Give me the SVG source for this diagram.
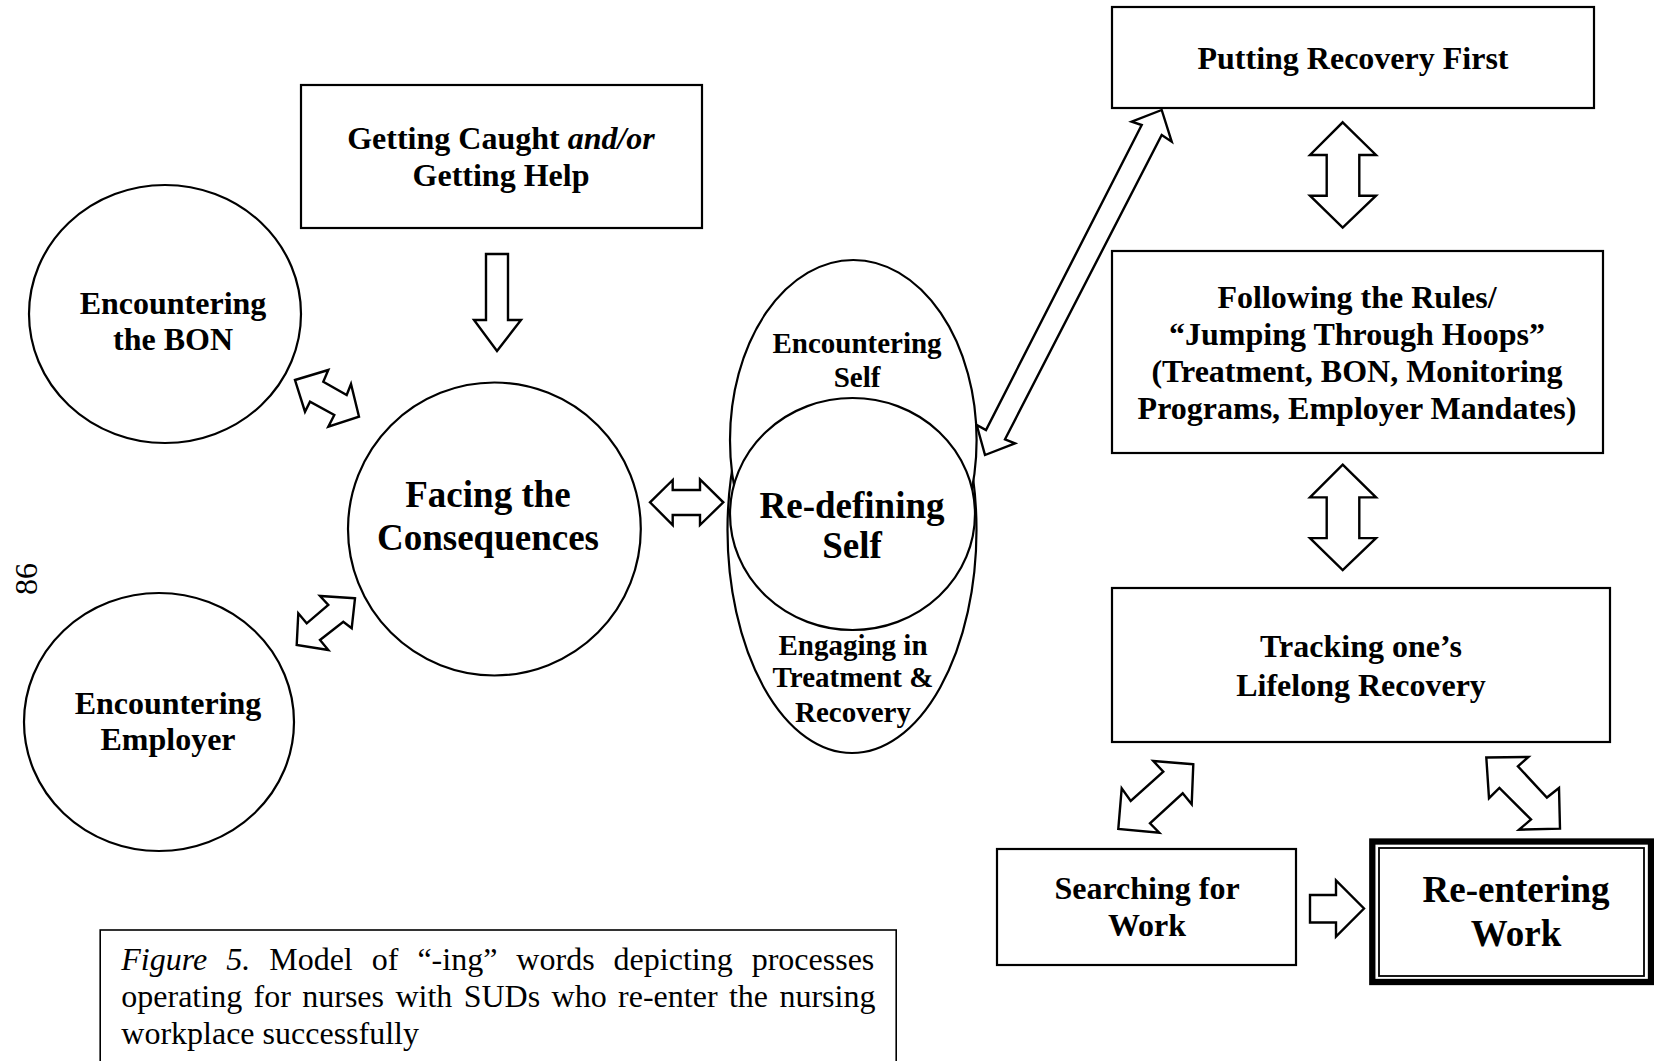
<svg xmlns="http://www.w3.org/2000/svg" width="1654" height="1061" viewBox="0 0 1654 1061">
<style>
.box{fill:#fff;stroke:#000;stroke-width:2.2}
.arr{fill:#fff;stroke:#000;stroke-width:2.4;stroke-linejoin:miter}
.t{font-family:"Liberation Serif","Times New Roman",serif;font-weight:bold;text-anchor:middle;fill:#000}
.s32{font-size:32px}
.s37{font-size:37px}
.s29{font-size:29px}
.cap{font-family:"Liberation Serif","Times New Roman",serif;font-size:32px;fill:#000}
</style>
<rect width="1654" height="1061" fill="#fff"/>

<text class="cap" transform="translate(37,579) rotate(-90)" text-anchor="middle" font-size="34">86</text>

<g id="node-getting-caught">
<rect class="box" x="301" y="85" width="401" height="143"/>
<text class="t s32" x="501" y="149">Getting Caught <tspan font-style="italic">and/or</tspan></text>
<text class="t s32" x="501" y="186">Getting Help</text>
</g>

<g id="node-encountering-bon">
<ellipse class="box" cx="165" cy="314" rx="136" ry="129"/>
<text class="t s32" x="173" y="314">Encountering</text>
<text class="t s32" x="173" y="350">the BON</text>
</g>

<g id="node-encountering-employer">
<ellipse class="box" cx="159" cy="722" rx="135" ry="129"/>
<text class="t s32" x="168" y="714">Encountering</text>
<text class="t s32" x="168" y="750">Employer</text>
</g>

<g id="node-facing">
<ellipse class="box" cx="494.4" cy="529" rx="146.4" ry="146.5"/>
<text class="t s37" x="488" y="507">Facing the</text>
<text class="t s37" x="488" y="550">Consequences</text>
</g>

<g id="node-redefining-self">
<ellipse id="engaging" class="box" cx="852" cy="530" rx="124.5" ry="223"/>
<ellipse id="encountering-self" class="box" cx="853.3" cy="440" rx="123.3" ry="180"/>
<ellipse id="redefining" class="box" cx="852.5" cy="514" rx="122.5" ry="116"/>
<text class="t s29" x="857" y="353">Encountering</text>
<text class="t s29" x="857" y="387">Self</text>
<text class="t s37" x="852" y="518">Re-defining</text>
<text class="t s37" x="852" y="558">Self</text>
<text class="t s29" x="853" y="655">Engaging in</text>
<text class="t s29" x="853" y="687">Treatment &amp;</text>
<text class="t s29" x="853" y="722">Recovery</text>
</g>

<g id="node-putting-recovery">
<rect class="box" x="1112" y="7" width="482" height="101"/>
<text class="t s32" x="1353" y="69">Putting Recovery First</text>
</g>

<g id="node-following-rules">
<rect class="box" x="1112" y="251" width="491" height="202"/>
<text class="t s32" x="1357" y="308">Following the Rules/</text>
<text class="t s32" x="1357" y="345">“Jumping Through Hoops”</text>
<text class="t s32" x="1357" y="382">(Treatment, BON, Monitoring</text>
<text class="t s32" x="1357" y="419">Programs, Employer Mandates)</text>
</g>

<g id="node-tracking">
<rect class="box" x="1112" y="588" width="498" height="154"/>
<text class="t s32" x="1361" y="657">Tracking one’s</text>
<text class="t s32" x="1361" y="696">Lifelong Recovery</text>
</g>

<g id="node-searching">
<rect class="box" x="997" y="849" width="299" height="116"/>
<text class="t s32" x="1147" y="899">Searching for</text>
<text class="t s32" x="1147" y="936">Work</text>
</g>

<g id="node-reentering">
<rect x="1372.3" y="841.5" width="278.7" height="140.5" fill="#fff" stroke="#000" stroke-width="6.3"/>
<rect x="1379" y="848" width="265" height="128" fill="none" stroke="#000" stroke-width="1.8"/>
<text class="t s37" x="1516" y="902">Re-entering</text>
<text class="t s37" x="1516" y="946">Work</text>
</g>

<g id="connectors">
<polygon class="arr" points="486,254 508,254 508,320 521,320 497,351 474,320 486,320"/>
<polygon class="arr" points="295,380 328.3,370 323.3,381.7 346.7,395 351,384 359,416.7 328.3,426.7 334.3,415 310,401.7 305,411.7"/>
<polygon class="arr" points="355,598.3 320,596 328.3,605 306.7,623.3 298.3,613.3 296.7,645 328.3,650 320,640 343.3,621.7 351.7,628.3"/>
<polygon class="arr" points="650,502.3 672.7,480 672.7,490 700,490 700,479.3 723.3,502.3 700,525 700,515 672.7,515 672.7,525"/>
<polygon class="arr" points="1161.7,110 1171.7,141.7 1161.7,135 1005,439.3 1015,443.3 985,455 976.7,425 986,430 1141.7,125 1131.7,121.7"/>
<polygon class="arr" points="1342.7,122.3 1376,155 1359.3,155 1359.3,195.7 1376,195.7 1342.7,227.5 1310,195.7 1326.7,195.7 1326.7,155 1310,155"/>
<polygon class="arr" points="1342.7,464.7 1376,497.4 1359.3,497.4 1359.3,538.1 1376,538.1 1342.7,570 1310,538.1 1326.7,538.1 1326.7,497.4 1310,497.4"/>
<polygon class="arr" points="1193.3,764.3 1153.3,761 1163.3,771.7 1130.7,801 1121.7,788.3 1118.3,829 1159.3,832.7 1150,823.3 1182.7,793.3 1191.7,804.3"/>
<polygon class="arr" points="1486.3,757.5 1528.4,756.9 1517.9,766.3 1546.9,797.5 1559,788 1560,828.6 1519,829.7 1531,819.5 1499.4,788 1489,798.2"/>
<polygon class="arr" points="1310,895 1336,895 1336,880.5 1364,908.5 1336,936.5 1336,922.5 1310,922.5"/>
</g>

<g id="caption">
<rect x="100.2" y="930" width="796" height="140" fill="#fff" stroke="#000" stroke-width="1.6"/>
<text class="cap" x="121.3" y="970" word-spacing="11"><tspan font-style="italic">Figure 5.</tspan> Model of “-ing” words depicting processes</text>
<text class="cap" x="121.3" y="1007" word-spacing="3.4">operating for nurses with SUDs who re-enter the nursing</text>
<text class="cap" x="121.3" y="1044">workplace successfully</text>
</g>
</svg>
